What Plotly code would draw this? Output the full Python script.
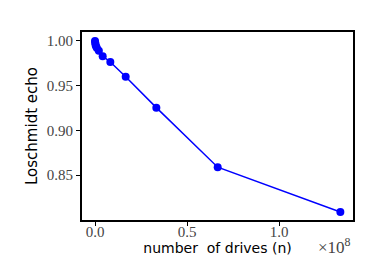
import plotly.graph_objects as go

drives = [0, 1.3e5, 2.6e5, 5.2e5, 1.04e6, 2.08e6, 4.17e6, 8.33e6, 1.667e7, 3.333e7, 6.667e7, 1.3333e8]
echo = [1.000, 0.998, 0.996, 0.994, 0.992, 0.989, 0.983, 0.9765, 0.960, 0.9255, 0.859, 0.809]

xticks = [0, 0.5e8, 1.0e8]
xtick_text = ["0.0", "0.5", "1.0"]
yticks = [0.85, 0.90, 0.95, 1.00]
ytick_text = ["0.85", "0.90", "0.95", "1.00"]

fig = go.Figure()
fig.add_trace(go.Scatter(
    x=drives, y=echo, mode="lines+markers",
    line=dict(color="#0000ff", width=1.5),
    marker=dict(color="#0000ff", size=8),
    showlegend=False,
))

serif = "Liberation Serif"
sans = "DejaVu Sans"

fig.update_layout(
    width=369, height=277,
    margin=dict(l=74, r=24, t=24, b=65),
    paper_bgcolor="white", plot_bgcolor="white",
    xaxis=dict(
        range=[-0.0707e8, 1.402e8],
        tickvals=xticks, ticktext=xtick_text,
        ticks="outside", ticklen=4, tickwidth=1, tickcolor="black",
        ticklabelstandoff=-7,
        showgrid=False, zeroline=False,
        showline=True, linecolor="black", linewidth=2, mirror=True,
        tickfont=dict(family=serif, size=15, color="#444444"),
        title=dict(text="number  of drives (n)", font=dict(family=sans, size=14, color="black"), standoff=3),
    ),
    yaxis=dict(
        range=[0.80, 1.01],
        tickvals=yticks, ticktext=ytick_text,
        ticks="outside", ticklen=4, tickwidth=1, tickcolor="black",
        showgrid=False, zeroline=False,
        showline=True, linecolor="black", linewidth=2, mirror=True,
        tickfont=dict(family=serif, size=15, color="#444444"),
        title=dict(text="Loschmidt echo", font=dict(family=sans, size=15, color="black"), standoff=6),
    ),
)

fig.add_annotation(
    x=1.0, y=0, xref="paper", yref="paper", xanchor="right", yanchor="middle",
    xshift=0, yshift=-26, text="×10<sup>8</sup>", showarrow=False,
    font=dict(family=serif, size=17, color="#444444"),
)

fig.write_html("out.html")
